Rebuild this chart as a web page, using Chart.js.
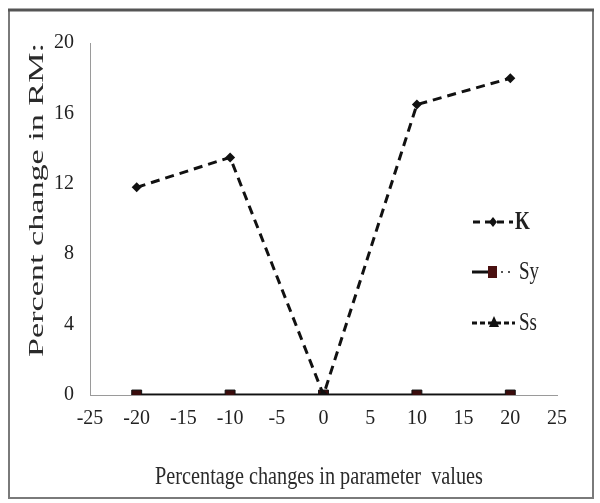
<!DOCTYPE html>
<html>
<head>
<meta charset="utf-8">
<script src="https://cdn.jsdelivr.net/npm/chart.js@4"></script>
<style>
html,body{margin:0;padding:0;background:#fff;}
#wrap{position:relative;width:600px;height:503px;}
canvas{display:block;}
</style>
</head>
<body>
<div id="wrap"><canvas id="c" width="600" height="503"></canvas></div>
<script>
const xValues = [-20, -10, 0, 10, 20];
const kValues = [11.8, 13.5, 0, 16.5, 18.0];
const syValues = [0, 0, 0, 0, 0];
const ssValues = [0, 0, 0, 0, 0];
const seriesNames = ['K', 'Sy', 'Ss'];
const xTitle = 'Percentage changes in parameter  values';
const yTitle = 'Percent change in RM:';

const toPts = arr => xValues.map((x, i) => ({x: x, y: arr[i]}));
const FONT = '"Liberation Serif", "Times New Roman", serif';

const framePlugin = {
  id: 'frame',
  beforeDraw(chart) {
    const ctx = chart.ctx;
    ctx.save();
    ctx.fillStyle = '#fff';
    ctx.fillRect(0, 0, chart.width, chart.height);
    ctx.strokeStyle = '#7a7a7a';
    ctx.lineWidth = 2;
    ctx.strokeRect(9, 10, 584, 488);
    ctx.strokeStyle = '#555';
    ctx.lineWidth = 3;
    ctx.beginPath(); ctx.moveTo(8, 10); ctx.lineTo(594, 10); ctx.stroke();
    ctx.restore();
  },
  afterDraw(chart) {
    const ctx = chart.ctx;
    ctx.save();
    // y title (stretched along its length)
    ctx.font = '20px ' + FONT;
    ctx.fillStyle = '#2a2a2a';
    ctx.textAlign = 'center';
    ctx.textBaseline = 'middle';
    let w = ctx.measureText(yTitle).width;
    ctx.translate(37, 200);
    ctx.rotate(-Math.PI / 2);
    ctx.scale(314 / w, 1.05);
    ctx.fillText(yTitle, 0, 0);
    ctx.restore();

    ctx.save();
    ctx.font = '19px ' + FONT;
    ctx.fillStyle = '#2a2a2a';
    ctx.textAlign = 'center';
    ctx.textBaseline = 'middle';
    w = ctx.measureText(xTitle).width;
    ctx.translate(319, 477);
    ctx.scale(328 / w, 1.35);
    ctx.fillText(xTitle, 0, 0);
    ctx.restore();

    // legend
    ctx.save();
    const rows = [
      {name: seriesNames[0], y: 222},
      {name: seriesNames[1], y: 272},
      {name: seriesNames[2], y: 323}
    ];
    // K
    ctx.strokeStyle = '#111'; ctx.lineWidth = 3;
    ctx.setLineDash([7, 5]);
    ctx.beginPath(); ctx.moveTo(473, rows[0].y); ctx.lineTo(513, rows[0].y); ctx.stroke();
    ctx.setLineDash([]);
    ctx.fillStyle = '#111';
    ctx.beginPath();
    ctx.moveTo(493, rows[0].y - 5); ctx.lineTo(497, rows[0].y); ctx.lineTo(493, rows[0].y + 5); ctx.lineTo(489, rows[0].y);
    ctx.closePath(); ctx.fill();
    // Sy
    ctx.lineWidth = 3;
    ctx.beginPath(); ctx.moveTo(472, rows[1].y); ctx.lineTo(492, rows[1].y); ctx.stroke();
    ctx.fillStyle = '#4a1010';
    ctx.fillRect(488, rows[1].y - 6, 9, 12);
    ctx.fillStyle = '#555';
    ctx.fillRect(501, rows[1].y - 1, 2, 2);
    ctx.fillRect(508, rows[1].y - 1, 2, 2);
    // Ss
    ctx.strokeStyle = '#111'; ctx.lineWidth = 3;
    ctx.setLineDash([5, 3]);
    ctx.beginPath(); ctx.moveTo(472, rows[2].y); ctx.lineTo(515, rows[2].y); ctx.stroke();
    ctx.setLineDash([]);
    ctx.fillStyle = '#111';
    ctx.beginPath();
    ctx.moveTo(494, rows[2].y - 7); ctx.lineTo(499, rows[2].y + 4); ctx.lineTo(489, rows[2].y + 4);
    ctx.closePath(); ctx.fill();
    // texts
    ctx.fillStyle = '#222';
    ctx.textAlign = 'left';
    ctx.textBaseline = 'middle';
    rows.forEach((r, i) => {
      ctx.save();
      ctx.font = (i === 0 ? 'bold ' : '') + '19px ' + FONT;
      ctx.translate(i === 0 ? 515 : 519, r.y);
      ctx.scale(1, 1.35);
      ctx.fillText(r.name, 0, 0);
      ctx.restore();
    });
    ctx.restore();
  }
};

new Chart(document.getElementById('c'), {
  type: 'line',
  data: {
    datasets: [
      {
        label: seriesNames[0],
        data: toPts(kValues),
        borderColor: '#111',
        backgroundColor: '#111',
        borderWidth: 3,
        borderDash: [9, 6],
        pointStyle: 'rectRot',
        pointRadius: 5,
        pointBorderWidth: 0,
        tension: 0
      },
      {
        label: seriesNames[1],
        data: toPts(syValues),
        borderColor: '#111',
        backgroundColor: '#3a0c0c',
        borderWidth: 3,
        pointStyle: 'rect',
        pointRadius: 7,
        pointBorderColor: '#111',
        pointBorderWidth: 1,
        tension: 0
      },
      {
        label: seriesNames[2],
        data: toPts(ssValues),
        borderColor: '#111',
        backgroundColor: '#111',
        borderWidth: 2,
        borderDash: [5, 3],
        pointStyle: 'triangle',
        pointRadius: 5,
        pointBorderWidth: 0,
        tension: 0
      }
    ]
  },
  options: {
    responsive: false,
    animation: false,
    devicePixelRatio: 1,
    layout: {padding: {top: 43, right: 43, left: 0, bottom: 0}},
    plugins: {legend: {display: false}, tooltip: {enabled: false}, title: {display: false}},
    scales: {
      x: {
        type: 'linear',
        min: -25, max: 25,
        afterFit: s => { s.height = 108; },
        grid: {display: false, drawTicks: false},
        border: {display: true, color: '#9a9a9a', width: 1},
        ticks: {stepSize: 5, padding: 12, color: '#222', font: {family: FONT, size: 20}, maxRotation: 0, autoSkip: false},
        title: {display: false}
      },
      y: {
        min: 0, max: 20,
        afterFit: s => { s.width = 90; },
        grid: {display: false, drawTicks: false},
        border: {display: true, color: '#9a9a9a', width: 1},
        ticks: {stepSize: 4, padding: 16, color: '#222', font: {family: FONT, size: 20}},
        title: {display: false}
      }
    }
  },
  plugins: [framePlugin]
});
</script>
</body>
</html>
